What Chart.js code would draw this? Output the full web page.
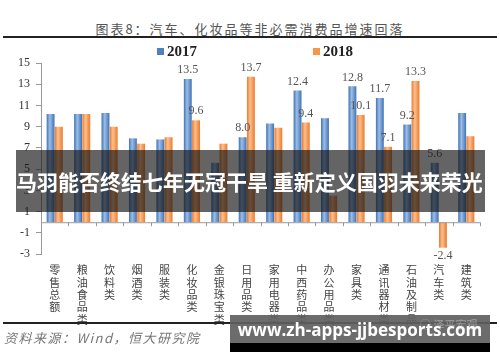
<!DOCTYPE html>
<html>
<head>
<meta charset="utf-8">
<script src="https://cdn.jsdelivr.net/npm/chart.js@4.4.0/dist/chart.umd.min.js"></script>
<style>
  body { margin: 0; background: #fff; }
  #wrap { position: relative; width: 500px; height: 362px; overflow: hidden; font-family: "Noto Sans CJK SC", sans-serif; }
  #title { position: absolute; top: 20px; left: 0; width: 500px; text-align: center; font-size: 13px; letter-spacing: 2px; color: #555; line-height: 18px; }
  .rule { position: absolute; left: 3px; width: 494px; background: #222; }
  #chartBox { position: absolute; left: 0; top: 38px; width: 500px; height: 306px; }
  .leg { position: absolute; top: 42px; font: bold 15px "Liberation Serif", serif; color: #222; line-height: 18px; }
  .leg i { display: inline-block; width: 7px; height: 7px; margin-right: 3px; vertical-align: 1px; }
  #source { position: absolute; left: 4px; top: 328px; font-size: 13px; letter-spacing: 1.5px; font-style: italic; color: #777; }
  #banner { position: absolute; left: 16px; top: 150px; width: 469px; height: 62px; background: rgba(20,20,20,0.66);
            color: #fff; font-weight: bold; font-size: 21px; line-height: 62px; white-space: nowrap; }
  #site { position: absolute; left: 230px; top: 315px; width: 260px; height: 28px; background: rgba(95,95,95,0.92);
          color: #fff; font: bold 17px "Open Sans", sans-serif; text-align: center; line-height: 30px; }
  #siteBar { position: absolute; left: 230px; top: 343px; width: 260px; height: 9px; background: #000; }
  #mark { position: absolute; left: 420px; top: 316px; font-size: 11px; color: rgba(255,255,255,0.35); }
</style>
</head>
<body>
<div id="wrap">
  <div id="title">图表8：汽车、化妆品等非必需消费品增速回落</div>
  <div class="rule" style="top:36px;height:2px;"></div>
  <div id="chartBox"><canvas id="growthChart"></canvas></div>
  <div class="leg" style="left:157px;"><i style="background:#4F81BD"></i>2017</div>
  <div class="leg" style="left:313px;"><i style="background:#F79646"></i>2018</div>
  <div class="rule" style="top:322px;height:1.5px;"></div>
  <div id="source">资料来源：Wind，恒大研究院</div>
  <div id="banner">马羽能否终结七年无冠干旱 重新定义国羽未来荣光</div>
  <div id="site">www.zh-apps-jjbesports.com</div>
  <div id="siteBar"></div>
  <div id="mark">◯ 泽平宏观</div>
</div>
<script>
// 数据
const categories = ['零售总额', '粮油食品类', '饮料类', '烟酒类', '服装类', '化妆品类', '金银珠宝类', '日用品类',
                    '家用电器类', '中西药品类', '办公用品类', '家具类', '通讯器材类', '石油及制品类', '汽车类', '建筑类'];
const growth2017 = [10.2, 10.2, 10.3, 7.9, 7.8, 13.5, 5.6, 8.0, 9.3, 12.4, 9.8, 12.8, 11.7, 9.2, 5.6, 10.3];
const growth2018 = [9.0, 10.2, 9.0, 7.4, 8.0, 9.6, 7.4, 13.7, 8.9, 9.4, 2.5, 10.1, 7.1, 13.3, -2.4, 8.1];
const yTicks = [-3, -1, 1, 3, 5, 7, 9, 11, 13, 15];
const labelled = [5, 7, 9, 11, 12, 13, 14];   // 显示数值的类别

const CAT_PCT = 0.6, BAR_PCT = 0.96;

// 每根柱子横向渐变
function barFill(edge, mid, side) {
  return function (c) {
    const chart = c.chart, x = chart.scales.x;
    if (!chart.chartArea || !x) return edge;
    const cw = x.width / categories.length;
    const gw = cw * CAT_PCT;
    const bw = gw / 2 * BAR_PCT;
    const cx = x.getPixelForValue(c.dataIndex) + side * gw / 4;
    const g = chart.ctx.createLinearGradient(cx - bw / 2, 0, cx + bw / 2, 0);
    g.addColorStop(0, edge);
    g.addColorStop(0.4, mid);
    g.addColorStop(1, edge);
    return g;
  };
}

// 零轴线、刻度、数值标签
const extras = {
  id: 'extras',
  afterDatasetsDraw(chart) {
    const ctx = chart.ctx, x = chart.scales.x, y = chart.scales.y;
    const y0 = y.getPixelForValue(0);
    ctx.save();
    ctx.strokeStyle = '#9a9a9a';
    ctx.lineWidth = 1;
    ctx.beginPath();
    ctx.moveTo(x.left, y0 + 0.5);
    ctx.lineTo(x.right, y0 + 0.5);
    const cw = x.width / categories.length;
    for (let i = 1; i <= categories.length; i++) {
      const px = Math.round(x.left + cw * i) + 0.5;
      ctx.moveTo(px, y0);
      ctx.lineTo(px, y0 + 4);
    }
    ctx.stroke();

    ctx.font = '12px "Liberation Serif", serif';
    ctx.fillStyle = '#555';
    ctx.textAlign = 'center';
    [growth2017, growth2018].forEach(function (arr, di) {
      const meta = chart.getDatasetMeta(di);
      labelled.forEach(function (i) {
        const bar = meta.data[i];
        const v = arr[i];
        if (v >= 0) {
          ctx.textBaseline = 'bottom';
          ctx.fillText(v.toFixed(1), bar.x, bar.y - 3);
        } else {
          ctx.textBaseline = 'top';
          ctx.fillText(v.toFixed(1), bar.x, bar.y + 2);
        }
      });
    });
    ctx.restore();
  }
};

new Chart(document.getElementById('growthChart'), {
  type: 'bar',
  data: {
    labels: categories.map(function (s) { return s.split(''); }),
    datasets: [{
      label: '2017',
      data: growth2017,
      backgroundColor: barFill('#3F73B5', '#9DBDE6', -1),
      categoryPercentage: CAT_PCT,
      barPercentage: BAR_PCT
    }, {
      label: '2018',
      data: growth2018,
      backgroundColor: barFill('#EC7A2C', '#FCC08F', 1),
      categoryPercentage: CAT_PCT,
      barPercentage: BAR_PCT
    }]
  },
  options: {
    responsive: true,
    maintainAspectRatio: false,
    animation: false,
    layout: { padding: { left: 12, right: 20, top: 25, bottom: 4 } },
    plugins: { legend: { display: false }, tooltip: { enabled: false } },
    scales: {
      x: {
        grid: { display: false },
        border: { display: false },
        ticks: {
          autoSkip: false, maxRotation: 0, padding: 2, color: '#444',
          font: { family: '"Noto Sans CJK SC", sans-serif', size: 11, lineHeight: 1.12 }
        }
      },
      y: {
        min: -3, max: 15,
        afterBuildTicks: function (axis) { axis.ticks = yTicks.map(function (v) { return { value: v }; }); },
        grid: { drawOnChartArea: false, tickLength: 5, color: '#9a9a9a' },
        border: { color: '#9a9a9a' },
        ticks: { padding: 6, color: '#333', font: { family: '"Liberation Serif", serif', size: 12 } }
      }
    }
  },
  plugins: [extras]
});
</script>
</body>
</html>
